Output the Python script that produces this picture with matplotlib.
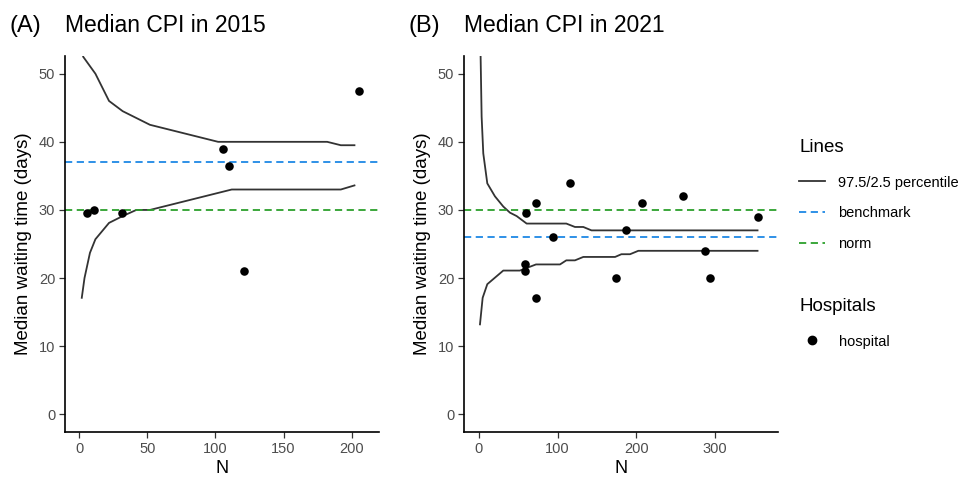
import matplotlib
matplotlib.use('Agg')
import matplotlib.pyplot as plt
from matplotlib.lines import Line2D

plt.rcParams['font.family'] = ['Liberation Sans', 'DejaVu Sans']

# panel A (2015)
a_n = [2, 3, 12, 22, 32, 52, 102, 182, 192, 202]
a_upper = [60, 52.5, 50, 46, 44.5, 42.5, 40, 40, 39.5, 39.5]
a_low_n = [2, 4, 8, 12, 22, 32, 42, 52, 112, 192, 202]
a_lower = [17.1, 20, 23.7, 25.7, 28.1, 29.1, 30, 30, 33, 33, 33.6]
a_hosp_n = [5.6, 11, 31.8, 105.6, 109.8, 120.8, 205.6]
a_hosp_y = [29.5, 30, 29.5, 39, 36.5, 21, 47.5]
a_bench, a_norm = 37, 30

# panel B (2021)
b_n = [1.3, 2.1, 3.4, 5.5, 10.6, 20.3, 30.9, 39.4, 47.9, 60.6, 111, 122, 132.6, 143, 354]
b_upper = [60, 52.6, 43.7, 38.3, 33.9, 32, 30.5, 29.6, 29.1, 28, 28, 27.5, 27.5, 27, 27]
b_low_n = [1.3, 4.7, 10.6, 30.9, 52, 72.5, 103, 111, 122, 132.6, 173, 181, 192, 202.5, 354]
b_lower = [13.2, 17.1, 19.1, 21.1, 21.1, 22, 22, 22.6, 22.6, 23.1, 23.1, 23.5, 23.5, 24, 24]
b_hosp_n = [59.7, 72.9, 58, 58, 72, 94, 115.3, 173.7, 187.3, 207.2, 258.9, 286.9, 294, 354.7]
b_hosp_y = [29.5, 31, 22, 21, 17, 26, 34, 20, 27, 31, 32, 24, 20, 29]
b_bench, b_norm = 26, 30

line_col = '#333333'
bench_col = '#1E88E5'
norm_col = '#2CA02C'
tick_col = '#4D4D4D'
dash = (0, (4, 2.5))

fig = plt.figure(figsize=(9.71, 4.79), dpi=100)
axA = fig.add_axes([65/971, 1-432/479, 314/971, 376/479])
axB = fig.add_axes([464/971, 1-432/479, 314/971, 376/479])

panels = [
    (axA, a_n, a_upper, a_low_n, a_lower, a_hosp_n, a_hosp_y, a_bench, a_norm,
     (-10.3, 220), [0, 50, 100, 150, 200], '(A)', 'Median CPI in 2015'),
    (axB, b_n, b_upper, b_low_n, b_lower, b_hosp_n, b_hosp_y, b_bench, b_norm,
     (-19, 380), [0, 100, 200, 300], '(B)', 'Median CPI in 2021'),
]

for ax, n, up, ln, lo, hn, hy, bench, norm, xl, xt, tag, title in panels:
    ax.plot(n, up, color=line_col, lw=1.3)
    ax.plot(ln, lo, color=line_col, lw=1.3)
    ax.axhline(bench, color=bench_col, lw=1.3, ls=dash)
    ax.axhline(norm, color=norm_col, lw=1.3, ls=dash)
    ax.scatter(hn, hy, s=38, color='black', zorder=3, linewidths=0)
    ax.set_xlim(*xl)
    ax.set_ylim(-2.6, 52.6)
    ax.set_xticks(xt)
    ax.set_yticks([0, 10, 20, 30, 40, 50])
    for s in ['top', 'right']:
        ax.spines[s].set_visible(False)
    for s in ['left', 'bottom']:
        ax.spines[s].set_linewidth(1.2)
    ax.tick_params(direction='out', length=4, width=0.9, color='#333333',
                   labelsize=10.5, labelcolor=tick_col, pad=3)
    ax.set_xlabel('N', fontsize=13, labelpad=3)
    ax.set_ylabel('Median waiting time (days)', fontsize=13.5, labelpad=5)
    bb = ax.get_position()
    fig.text(bb.x0 - 56/971, 1 - 32/479, tag, fontsize=17, va='baseline')
    fig.text(bb.x0, 1 - 32/479, title, fontsize=16.5, va='baseline')

line_handles = [
    Line2D([], [], color=line_col, lw=1.3),
    Line2D([], [], color=bench_col, lw=1.3, ls=dash),
    Line2D([], [], color=norm_col, lw=1.3, ls=dash),
]
leg1 = fig.legend(line_handles, ['97.5/2.5 percentile', 'benchmark', 'norm'],
                  title='Lines', loc='upper left', bbox_to_anchor=(786/971, 1 - 126/479),
                  frameon=False, fontsize=10.5, title_fontsize=13.5,
                  handlelength=1.75, handletextpad=0.95, labelspacing=1.15,
                  alignment='left')
leg2 = fig.legend([Line2D([], [], color='black', marker='o', ls='none', markersize=6)],
                  ['hospital'], title='Hospitals', loc='upper left',
                  bbox_to_anchor=(786/971, 1 - 285/479), frameon=False,
                  fontsize=10.5, title_fontsize=13.5, handlelength=1.75,
                  handletextpad=0.95, alignment='left')
leg2._legend_box.sep = 14
leg1._legend_box.sep = 14

fig.savefig('out.png', dpi=100)
